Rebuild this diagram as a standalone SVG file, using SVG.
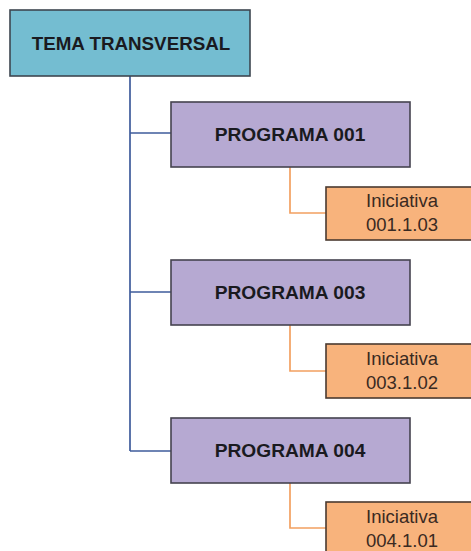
<svg xmlns="http://www.w3.org/2000/svg" width="471" height="551" viewBox="0 0 471 551">
  <style>
    .tema { fill: #74BDD1; stroke: #3E4650; stroke-width: 1.6; }
    .prog { fill: #B6A9D2; stroke: #45434F; stroke-width: 1.6; }
    .ini { fill: #F8B37C; stroke: #4A3A30; stroke-width: 1.6; }
    .blue { fill: none; stroke: #3F5C9C; stroke-width: 1.7; }
    .orange { fill: none; stroke: #F2A060; stroke-width: 1.7; }
    .title { font-family: "Liberation Sans", Arial, sans-serif; font-weight: bold; font-size: 18.8px; fill: #1A1A20; text-anchor: middle; }
    .prog-title { font-size: 19.2px; }
    .label { font-family: "Liberation Sans", Arial, sans-serif; font-size: 18.5px; fill: #3A2A22; text-anchor: middle; }
  </style>
  <rect width="471" height="551" fill="#FFFFFF"/>

  <g id="connectors">
    <path class="blue" d="M130,76 V451 M130,133 H171 M130,292 H171 M130,451 H171"/>
    <path class="orange" d="M290,167 V213 H326 M290,325 V371 H326 M290,483 V528 H326"/>
  </g>

  <g id="tema-transversal">
    <rect class="tema" x="10" y="10" width="240" height="66"/>
    <text class="title" x="131" y="50">TEMA TRANSVERSAL</text>
  </g>

  <g id="programa-001">
    <rect class="prog" x="171" y="102" width="239" height="65"/>
    <text class="title prog-title" x="290" y="141">PROGRAMA 001</text>
  </g>
  <g id="iniciativa-001-1-03">
    <rect class="ini" x="326" y="187" width="154" height="53"/>
    <text class="label" x="402" y="207">Iniciativa</text>
    <text class="label" x="402" y="231">001.1.03</text>
  </g>

  <g id="programa-003">
    <rect class="prog" x="171" y="260" width="239" height="65"/>
    <text class="title prog-title" x="290" y="299">PROGRAMA 003</text>
  </g>
  <g id="iniciativa-003-1-02">
    <rect class="ini" x="326" y="344" width="154" height="54"/>
    <text class="label" x="402" y="365">Iniciativa</text>
    <text class="label" x="402" y="389">003.1.02</text>
  </g>

  <g id="programa-004">
    <rect class="prog" x="171" y="418" width="239" height="65"/>
    <text class="title prog-title" x="290" y="457">PROGRAMA 004</text>
  </g>
  <g id="iniciativa-004-1-01">
    <rect class="ini" x="326" y="502" width="154" height="54"/>
    <text class="label" x="402" y="523">Iniciativa</text>
    <text class="label" x="402" y="547">004.1.01</text>
  </g>
</svg>
